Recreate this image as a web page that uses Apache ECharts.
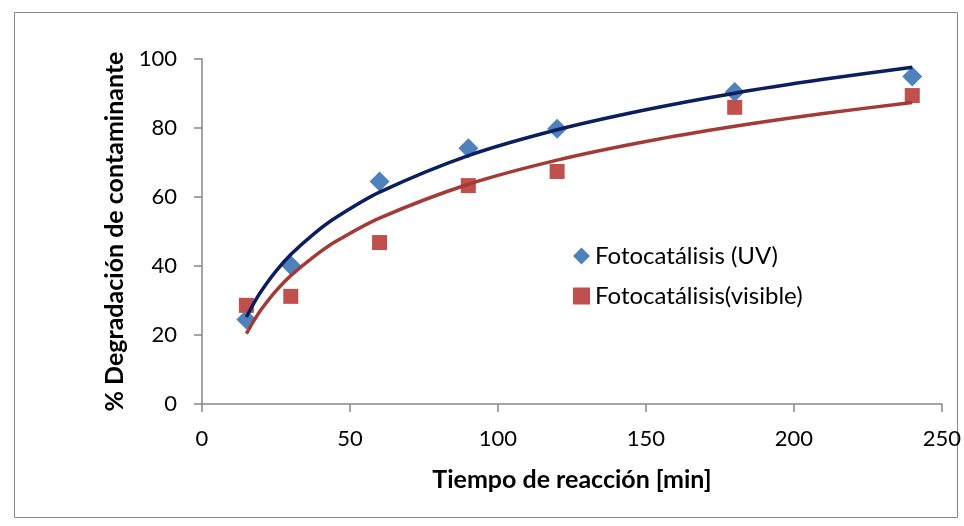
<!DOCTYPE html>
<html>
<head>
<meta charset="utf-8">
<script src="https://cdn.jsdelivr.net/npm/echarts@6/dist/echarts.min.js"></script>
<style>
  html, body { margin: 0; padding: 0; background: #fff; }
  #chart { width: 964px; height: 526px; }
</style>
</head>
<body>
<div id="chart"></div>
<script>
// tiempo de reacción (min)
var tiempo = [15, 30, 60, 90, 120, 180, 240];
var uv = [24.5, 40.2, 64.5, 74.1, 79.8, 90.4, 94.9];
var visible = [28.6, 31.2, 46.8, 63.3, 67.4, 86.0, 89.4];

// líneas de tendencia
var tendX = [15, 17.5, 20, 25, 30, 37.5, 45, 60, 90, 120, 150, 180, 210, 240];
var tendUV = [25.2, 29.2, 32.7, 38.5, 43.3, 49.1, 53.9, 61.4, 72.0, 79.5, 85.3, 90.1, 94.1, 97.6];
var tendVis = [20.4, 24.1, 27.4, 32.8, 37.2, 42.5, 47.0, 53.9, 63.7, 70.7, 76.1, 80.5, 84.2, 87.4];

function pares(xs, ys) {
  return xs.map(function (x, i) { return [x, ys[i]]; });
}

var font = 'Lato, "Open Sans", sans-serif';
var chart = echarts.init(document.getElementById('chart'));
chart.setOption({
  animation: false,
  backgroundColor: '#fff',
  graphic: [{
    type: 'rect',
    shape: { x: 14.5, y: 12.5, width: 943, height: 505 },
    style: { fill: 'none', stroke: '#868686', lineWidth: 1 }
  }],
  grid: { left: 202, right: 21, top: 59, bottom: 122 },
  legend: {
    orient: 'vertical',
    left: 568,
    top: 239,
    itemGap: 16,
    itemWidth: 17,
    itemHeight: 17,
    textStyle: { fontFamily: font, fontSize: 24, color: '#000' },
    data: ['Fotocatálisis (UV)', 'Fotocatálisis(visible)']
  },
  xAxis: {
    type: 'value',
    min: 0, max: 250, interval: 50,
    name: 'Tiempo de reacción [min]',
    nameLocation: 'middle',
    nameGap: 63,
    nameTextStyle: { fontFamily: font, fontSize: 25, fontWeight: 'bold', color: '#000' },
    axisLine: { show: true, lineStyle: { color: '#868686', width: 1.5 } },
    axisTick: { show: true, length: 8, lineStyle: { color: '#868686', width: 1.5 } },
    axisLabel: { fontFamily: font, fontSize: 22, color: '#000', margin: 24 },
    splitLine: { show: false }
  },
  yAxis: {
    type: 'value',
    min: 0, max: 100, interval: 20,
    name: '% Degradación de contaminante',
    nameLocation: 'middle',
    nameGap: 72,
    nameTextStyle: { fontFamily: font, fontSize: 25, fontWeight: 'bold', color: '#000' },
    axisLine: { show: true, lineStyle: { color: '#868686', width: 1.5 } },
    axisTick: { show: true, length: 8, lineStyle: { color: '#868686', width: 1.5 } },
    axisLabel: { fontFamily: font, fontSize: 22, color: '#000', margin: 25 },
    splitLine: { show: false }
  },
  series: [
    {
      name: 'tendencia UV',
      type: 'line',
      data: pares(tendX, tendUV),
      smooth: 0.3,
      showSymbol: false,
      lineStyle: { color: '#0B1F5E', width: 3.5 },
      z: 3
    },
    {
      name: 'tendencia visible',
      type: 'line',
      data: pares(tendX, tendVis),
      smooth: 0.3,
      showSymbol: false,
      lineStyle: { color: '#A33A36', width: 3.5 },
      z: 3
    },
    {
      name: 'Fotocatálisis (UV)',
      type: 'scatter',
      data: pares(tiempo, uv),
      symbol: 'diamond',
      symbolSize: 20,
      itemStyle: { color: '#4F81BD', opacity: 1 },
      z: 2
    },
    {
      name: 'Fotocatálisis(visible)',
      type: 'scatter',
      data: pares(tiempo, visible),
      symbol: 'rect',
      symbolSize: 15,
      itemStyle: { color: '#C0504D', opacity: 1 },
      z: 2
    }
  ]
});
</script>
</body>
</html>
